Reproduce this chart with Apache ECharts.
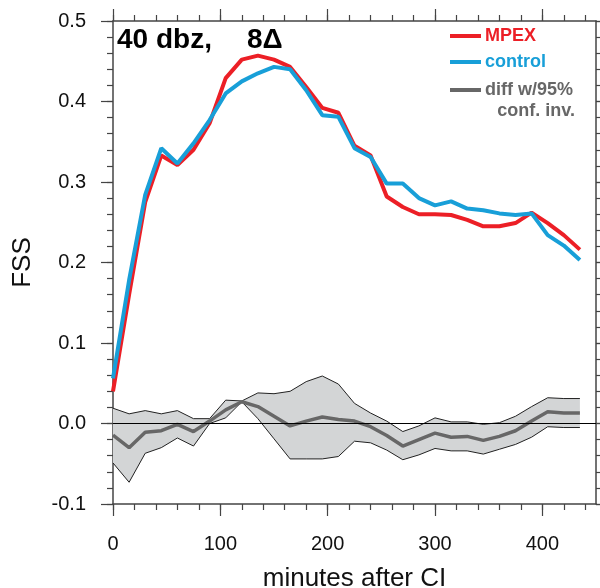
<!DOCTYPE html>
<html>
<head>
<meta charset="utf-8">
<script src="https://cdn.jsdelivr.net/npm/echarts@6/dist/echarts.min.js"></script>
<style>html,body{margin:0;padding:0;background:#fff}#c{width:600px;height:588px}</style>
</head>
<body>
<div id="c"></div>
<script>
// minutes after CI
const times = [0,15,30,45,60,75,90,105,120,135,150,165,180,195,210,225,240,255,270,285,300,315,330,345,360,375,390,405,420,435];
const mpex = [0.040,0.160,0.275,0.333,0.321,0.340,0.373,0.429,0.452,0.457,0.452,0.443,0.418,0.392,0.386,0.345,0.333,0.282,0.269,0.260,0.260,0.259,0.253,0.245,0.245,0.249,0.262,0.249,0.234,0.216];
const control = [0.056,0.178,0.284,0.342,0.323,0.348,0.377,0.410,0.425,0.435,0.443,0.440,0.414,0.383,0.381,0.342,0.331,0.298,0.298,0.280,0.271,0.276,0.267,0.265,0.261,0.259,0.261,0.234,0.221,0.203];
const diffMean = [-0.0145,-0.030,-0.011,-0.009,-0.001,-0.010,0.003,0.017,0.027,0.021,0.009,-0.003,0.003,0.008,0.005,0.003,-0.004,-0.015,-0.028,-0.020,-0.012,-0.017,-0.016,-0.021,-0.016,-0.009,0.003,0.0145,0.013,0.013];
const diffUpper = [0.019,0.012,0.016,0.012,0.016,0.006,0.006,0.029,0.028,0.038,0.037,0.040,0.052,0.059,0.049,0.025,0.013,0.003,-0.010,-0.003,0.007,0.002,0.002,-0.001,0.001,0.009,0.021,0.032,0.031,0.031];
const diffLower = [-0.049,-0.073,-0.037,-0.030,-0.018,-0.028,0.000,0.007,0.027,0.006,-0.019,-0.044,-0.044,-0.044,-0.041,-0.022,-0.024,-0.033,-0.045,-0.039,-0.031,-0.034,-0.034,-0.038,-0.032,-0.026,-0.017,-0.004,-0.005,-0.005];
const xMajorTicks = [0,100,200,300,400];
const xMinorTicks = [0,20,40,60,80,100,120,140,160,180,200,220,240,260,280,300,320,340,360,380,400,420,440];

const FONT = "'Liberation Sans', Arial, Helvetica, sans-serif";
const AX = '#444';
const pairs = arr => times.map((t, i) => [t, arr[i]]);

const chart = echarts.init(document.getElementById('c'), null, {renderer: 'canvas'});

function xAxisCfg(pos, major) {
  return {
    type: 'value', position: pos, min: 0, max: 450,
    interval: major ? 100 : 20,
    axisLine: {show: major, onZero: false, lineStyle: {color: AX, width: 1.5}},
    axisTick: {show: true, inside: false, length: major ? 12 : 6,
      customValues: major ? xMajorTicks : xMinorTicks,
      lineStyle: {color: AX, width: 1.2}},
    axisLabel: {show: major && pos === 'bottom', customValues: xMajorTicks,
      fontSize: 20, margin: 30, color: '#111', fontFamily: FONT},
    splitLine: {show: false},
    name: (major && pos === 'bottom') ? 'minutes after CI' : '',
    nameLocation: 'middle', nameGap: 62,
    nameTextStyle: {fontSize: 26, color: '#111', fontFamily: FONT}
  };
}
function yAxisCfg(pos, major) {
  return {
    type: 'value', position: pos, min: -0.1, max: 0.5,
    interval: major ? 0.1 : 0.02,
    axisLine: {show: major, onZero: false, lineStyle: {color: AX, width: 1.5}},
    axisTick: {show: true, inside: false, length: major ? 12 : 6,
      lineStyle: {color: AX, width: 1.2}},
    axisLabel: {show: major && pos === 'left', fontSize: 20, margin: 27, color: '#111',
      fontFamily: FONT, formatter: v => (Math.abs(v) < 1e-9 ? 0 : v).toFixed(1)},
    splitLine: {show: false},
    name: (major && pos === 'left') ? 'FSS' : '',
    nameLocation: 'middle', nameGap: 77, nameRotate: 90,
    nameTextStyle: {fontSize: 26, color: '#111', fontFamily: FONT}
  };
}

const option = {
  animation: false,
  backgroundColor: '#fff',
  grid: {left: 113, top: 21, right: 4, bottom: 84, containLabel: false, outerBoundsMode: 'none'},
  xAxis: [xAxisCfg('bottom', true), xAxisCfg('bottom', false), xAxisCfg('top', true), xAxisCfg('top', false)],
  yAxis: [yAxisCfg('left', true), yAxisCfg('left', false), yAxisCfg('right', true), yAxisCfg('right', false)],
  series: [
    {
      type: 'custom', name: 'band', xAxisIndex: 0, yAxisIndex: 0, z: 1,
      data: [[0, 0]], silent: true,
      renderItem: function (params, api) {
        if (params.dataIndex !== 0) return;
        const pts = [];
        for (let i = 0; i < times.length; i++) pts.push(api.coord([times[i], diffUpper[i]]));
        for (let i = times.length - 1; i >= 0; i--) pts.push(api.coord([times[i], diffLower[i]]));
        return {type: 'polygon', shape: {points: pts}, style: {fill: '#d3d5d6', stroke: null}};
      }
    },
    {type: 'line', name: 'upper', data: pairs(diffUpper), symbol: 'none', z: 2,
      lineStyle: {color: '#222', width: 1}},
    {type: 'line', name: 'lower', data: pairs(diffLower), symbol: 'none', z: 2,
      lineStyle: {color: '#222', width: 1},
      markLine: {silent: true, symbol: 'none', label: {show: false},
        lineStyle: {color: '#000', width: 1.2, type: 'solid'}, data: [{yAxis: 0}]}},
    {type: 'line', name: 'diff', data: pairs(diffMean), symbol: 'none', z: 3,
      lineStyle: {color: '#676767', width: 3.5}},
    {type: 'line', name: 'MPEX', data: pairs(mpex), symbol: 'none', z: 4,
      lineStyle: {color: '#ec1f26', width: 4}},
    {type: 'line', name: 'control', data: pairs(control), symbol: 'none', z: 5,
      lineStyle: {color: '#189fd8', width: 4}}
  ],
  graphic: [
    {type: 'text', left: 117, top: 26, style: {text: '40 dbz,', font: "bold 28px " + FONT, fill: '#000'}},
    {type: 'text', left: 247, top: 26, style: {text: '8\u0394', font: "bold 28px " + FONT, fill: '#000'}},
    {type: 'line', shape: {x1: 450, y1: 36, x2: 481, y2: 36}, style: {stroke: '#ec1f26', lineWidth: 4}},
    {type: 'text', x: 485, y: 36, style: {text: 'MPEX', font: "bold 18px " + FONT, fill: '#ec1f26', verticalAlign: 'middle'}},
    {type: 'line', shape: {x1: 450, y1: 62, x2: 481, y2: 62}, style: {stroke: '#189fd8', lineWidth: 4}},
    {type: 'text', x: 485, y: 62, style: {text: 'control', font: "bold 18px " + FONT, fill: '#189fd8', verticalAlign: 'middle'}},
    {type: 'line', shape: {x1: 450, y1: 90, x2: 481, y2: 90}, style: {stroke: '#676767', lineWidth: 4}},
    {type: 'text', x: 485, y: 90, style: {text: 'diff w/95%', font: "bold 18px " + FONT, fill: '#676767', verticalAlign: 'middle'}},
    {type: 'text', x: 575, y: 111, style: {text: 'conf. inv.', font: "bold 18px " + FONT, fill: '#676767', verticalAlign: 'middle', align: 'right'}}
  ]
};
chart.setOption(option);
</script>
</body>
</html>
